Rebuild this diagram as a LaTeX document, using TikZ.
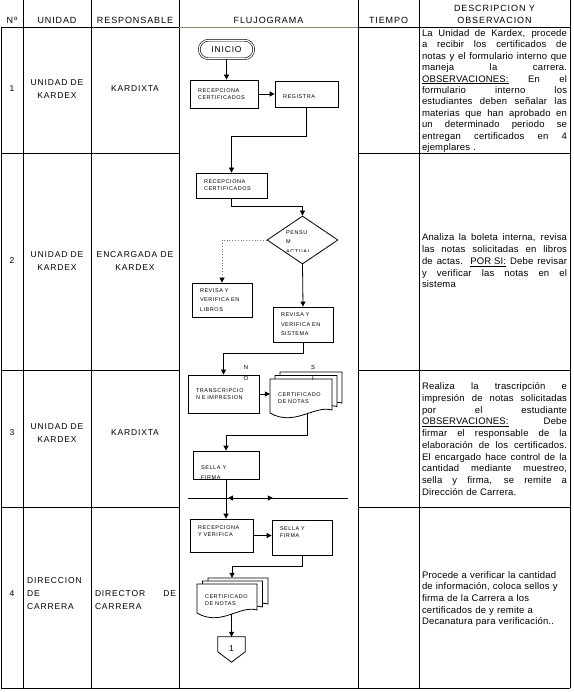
\documentclass[tikz,border=0pt]{standalone}
\usepackage{fontspec}
\setmainfont{Liberation Sans}
\newfontfamily\spaced[LetterSpace=10]{Liberation Sans}
\newfontfamily\lightspaced[LetterSpace=2]{Liberation Sans}
\usetikzlibrary{positioning, calc, arrows.meta, backgrounds, shapes.geometric, decorations.markings}

\definecolor{rulegreen}{RGB}{140,140,100}
\definecolor{dotgray}{RGB}{120,120,120}

\newcommand{\headfont}{\spaced\fontsize{9}{12}\selectfont}
\newcommand{\cellfont}{\spaced\fontsize{8.5}{13}\selectfont}
\newcommand{\boxfont}{\spaced\fontsize{5.5}{7}\selectfont}
\newcommand{\loosefont}{\spaced\fontsize{5.5}{9.5}\selectfont}
\newcommand{\tagfont}{\spaced\fontsize{6}{11}\selectfont}
\newcommand{\descfont}{\lightspaced\fontsize{9.5}{11.7}\selectfont}
% justified line of a fixed width (spaces get their stretch back)
\newcommand{\jl}[2][145pt]{{\spaceskip=0pt\xspaceskip=0pt\makebox[#1][s]{#2}}}

\tikzset{
    every node/.style={font=\cellfont, inner sep=1pt},
    head/.style={font=\headfont, align=center},
    desc/.style={font=\descfont, text width=145pt, align=left, inner sep=0pt},
    grid/.style={line width=.9pt},
    procbox/.style={draw, line width=.8pt, font=\boxfont, align=left, inner xsep=8pt, inner ysep=2pt},
    boxtext/.style={font=\boxfont, align=left, inner sep=0pt},
    docnode/.style={font=\boxfont, align=left, inner xsep=8pt, inner ysep=2pt},
    arrow/.style={-{Triangle[length=5pt,width=5pt]}, line width=.8pt},
    pics/sheet/.style 2 args={code={
        \filldraw[fill=white, line width=.8pt] (-#1/2,-#2/2) -- (#1/2,-#2/2) -- (#1/2,#2/2-7)
            .. controls (#1/2-0.3*#1,#2/2-12) and (-#1/2+0.4*#1,#2/2+10) .. (-#1/2,#2/2-4) -- cycle;
    }},
}

\begin{document}
\begin{tikzpicture}[x=1pt, y=-1pt]
\useasboundingbox (0,0) rectangle (573,692);
% table rules
\foreach \cx in {23,91,179,358,419,570} \draw[grid] (\cx,0) -- (\cx,688);
\draw[grid] (1,27) -- (1,688);
\draw[grid] (1,27) -- (179,27);
\draw[grid, rulegreen] (179,27) -- (358,27);
\draw[grid] (358,27) -- (570,27);
\foreach \ry in {153,370,507} {
    \draw[grid] (1,\ry) -- (179,\ry);
    \draw[grid] (358,\ry) -- (570,\ry);
}
\draw[grid] (1,688) -- (570,688);

% header
\node[head] (hNo) at (12,20) {Nº};
\node[head] (hUnidad) at (57,20) {UNIDAD};
\node[head] (hResp) at (135,20) {RESPONSABLE};
\node[head] (hFlujo) at (268.5,20) {FLUJOGRAMA};
\node[head] (hTiempo) at (388.5,20) {TIEMPO};
\node[head] (hDesc) at (494.5,14) {DESCRIPCION Y\\OBSERVACION};

% rows: number, unit, responsible
\node (n1) at (12,89) {1};
\node[align=center] (u1) at (57,89) {UNIDAD DE\\KARDEX};
\node (r1) at (135,89) {KARDIXTA};
\node (n2) at (12,261) {2};
\node[align=center] (u2) at (57,261) {UNIDAD DE\\KARDEX};
\node[align=center] (r2) at (135,261) {ENCARGADA DE\\KARDEX};
\node (n3) at (12,433) {3};
\node[align=center] (u3) at (57,433) {UNIDAD DE\\KARDEX};
\node (r3) at (135,433) {KARDIXTA};
\node (n4) at (12,594) {4};
\node[align=left, text width=62pt, anchor=west] (u4) at (26,594) {DIRECCION\\DE\\CARRERA};
\node[align=left, text width=81pt] (r4) at (135.5,600) {\jl[81pt]{DIRECTOR DE}\\CARRERA};

% descriptions
\node[desc, font=\lightspaced\fontsize{9.5}{11.45}\selectfont] (d1) at (494.5,91) {\jl{La Unidad de Kardex, procede}\\
    \jl{a recibir los certificados de}\\
    \jl{notas y el formulario interno que}\\
    \jl{maneja la carrera.}\\
    \jl{\underline{OBSERVACIONES:} En el}\\
    \jl{formulario interno los}\\
    \jl{estudiantes deben señalar las}\\
    \jl{materias que han aprobado en}\\
    \jl{un determinado periodo se}\\
    \jl{entregan certificados en 4}\\
    ejemplares .};
\node[desc] (d2) at (494.5,261) {\jl{Analiza la boleta interna, revisa}\\
    \jl{las notas solicitadas en libros}\\
    \jl{de actas. \underline{POR SI:} Debe revisar}\\
    \jl{y verificar las notas en el}\\
    sistema};
\node[desc] (d3) at (494.5,439) {\jl{Realiza la trascripción e}\\
    \jl{impresión de notas solicitadas}\\
    \jl{por el estudiante}\\
    \jl{\underline{OBSERVACIONES:} Debe}\\
    \jl{firmar el responsable de la}\\
    \jl{elaboración de los certificados.}\\
    \jl{El encargado hace control de la}\\
    \jl{cantidad mediante muestreo,}\\
    \jl{sella y firma, se remite a}\\
    Dirección de Carrera.};
\node[desc] (d4) at (494.5,599) {Procede a verificar la cantidad\\
    de información, coloca sellos y\\
    firma de la Carrera  a los\\
    certificados de y remite a\\
    Decanatura para verificación..};

% flowchart
\node[draw, double, double distance=1.2pt, line width=.6pt, rounded corners=9.2pt,
    minimum width=54.5pt, minimum height=18.5pt] (inicio) at (226.5,49.5) {INICIO};
\node[procbox, text width=52pt, minimum height=28pt] (recep) at (224,94) {RECEPCIONA\\CERTIFICADOS};
\node[procbox, text width=47pt, minimum height=26pt] (registra) at (306.5,94) {\mbox{}\\[3pt]REGISTRA};
\node[procbox, text width=55pt, minimum height=25pt] (recep2) at (231.5,185.5) {RECEPCIONA\\CERTIFICADOS};
\node[draw, diamond, line width=.8pt, minimum width=71pt, minimum height=48pt, inner sep=0pt] (pensum) at (302.5,240) {};
\node[procbox, font=\loosefont, text width=44pt, minimum height=34pt] (libros) at (222,300) {REVISA Y\\VERIFICA EN\\LIBROS};
\node[procbox, font=\loosefont, text width=44pt, minimum height=35pt] (sistema) at (303,324.5) {REVISA Y\\VERIFICA EN\\SISTEMA};
\node[procbox, text width=55pt, minimum height=38pt] (transc) at (223.5,394) {TRANSCRIPCIO\\N E IMPRESION};
\node[docnode, text width=46pt, minimum width=62pt, minimum height=38pt] (cert) at (301,398) {CERTIFICADO\\DE NOTAS};
\node[procbox, minimum width=66pt, minimum height=28pt] (sella) at (226,465) {};
\node[procbox, text width=47pt, minimum height=33pt] (recepver) at (221.5,535.5) {RECEPCIONA\\Y VERIFICA\\[1pt]\mbox{}};
\node[procbox, text width=44pt, minimum height=35pt] (sellafirma) at (302,537.5) {SELLA Y\\FIRMA\\[4pt]\mbox{}};
\node[docnode, text width=44pt, minimum width=60pt, minimum height=33pt] (certfin) at (227,600.5) {CERTIFICADO\\DE NOTAS};
\node[minimum width=27pt, minimum height=24pt] (conector) at (231.5,649) {1};
\draw[line width=.8pt] (conector.north west) -- (conector.north east) -- ++(0,15)
    -- ($(conector.south)+(0,1)$) -- ($(conector.north west)+(0,15)$) -- cycle;

% stacked sheets behind the two documents
\begin{scope}[on background layer]
\pic at ($(cert)+(10,-7)$) {sheet={62}{38}};
\pic at ($(cert)+(5,-3.5)$) {sheet={62}{38}};
\pic at (cert) {sheet={62}{38}};
\pic at ($(certfin)+(11,-6)$) {sheet={60}{33}};
\pic at ($(certfin)+(5.5,-3)$) {sheet={60}{33}};
\pic at (certfin) {sheet={60}{33}};
\end{scope}

% texts cut by their outlines
\begin{scope}
\clip (pensum.west |- pensum.north) rectangle ($(pensum.east)+(0,12)$);
\node[boxtext, font=\loosefont, anchor=north west] (pensumtxt) at (286,230) {PENSU\\M\\ACTUAL};
\end{scope}
\begin{scope}
\clip (sella.north west) rectangle (sella.south east);
\node[boxtext, font=\loosefont, anchor=west] (sellatxt) at (201,472.5) {SELLA Y\\FIRMA};
\end{scope}

% branch labels
\node[font=\tagfont, align=center] (tagNo) at (246,373) {N\\O};
\node[font=\tagfont, align=center] (tagSi) at (313,373) {S\\I};

% connectors
\draw[arrow] (inicio.south) -- (inicio.south |- recep.north);
\draw[arrow] (recep.east) -- (registra.west);
\draw[arrow] (registra.south) -- ++(0,29) -| (recep2.north);
\draw[arrow] (recep2.south) -- ++(0,8) -| (pensum.north);
\draw[line width=.8pt, dotted, dotgray, -{Triangle[length=5pt,width=5pt,black]}] (pensum.west) -| (libros.north);
\draw[arrow] (pensum.south) -- (sistema.north);
\draw[arrow] (sistema.south) -- ++(0,11) -| (transc.north);
\draw[arrow] (transc.east) -- (transc.east -| cert.west);
\draw[arrow] ($(cert.south)+(6,-3)$) -- ++(0,21) -| (sella.north);
\draw[arrow] (sella.south) -- (sella.south |- recepver.north);
\draw[arrow] (recepver.east) -- (recepver.east -| sellafirma.west);
\draw[arrow] (sellafirma.south) -- ++(0,11) -| ($(certfin.north)+(5,-6)$);
\draw[arrow] ($(conector.north |- certfin.south)+(0,-3)$) -- (conector.north);

% crossing line with two heads
\coordinate (cruceL) at (188,498);
\coordinate (cruceR) at (348,498);
\draw[line width=.8pt, postaction={decorate}, decoration={markings,
    mark=at position .25 with {\arrowreversed{Triangle[length=5pt,width=5pt]}},
    mark=at position .53 with {\arrow{Triangle[length=5pt,width=5pt]}}}] (cruceL) -- (cruceR);
\end{tikzpicture}
\end{document}
